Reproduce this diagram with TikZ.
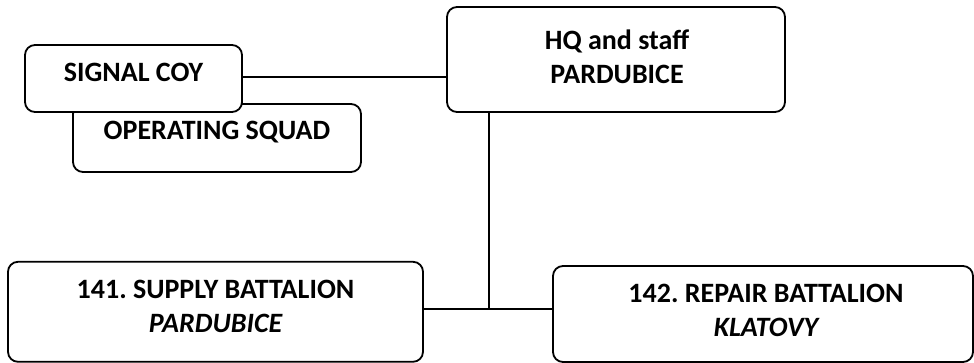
\documentclass[tikz,border=0pt]{standalone}
\usepackage{fontspec}
\setmainfont{Carlito}
\frenchspacing
\begin{document}
\begin{tikzpicture}[x=1pt,y=-1pt,
  unitbox/.style={draw=black, line width=1.8pt, rounded corners=10pt, fill=white, inner sep=0pt},
  lbl/.style={anchor=base, align=center, inner sep=0pt, font=\fontsize{28}{34}\selectfont\bfseries},
  link/.style={draw=black, line width=1.8pt}]
\useasboundingbox (0,0) rectangle (974,363);
% boxes
\node[unitbox, minimum width=288pt, minimum height=68pt] (ops) at (217,138) {};
\node[unitbox, minimum width=217pt, minimum height=67pt] (sig) at (133.5,78.5) {};
\node[unitbox, minimum width=338pt, minimum height=105pt] (hq) at (616,59.5) {};
\node[unitbox, minimum width=415pt, minimum height=100pt] (sup) at (215.5,311.8) {};
\node[unitbox, minimum width=420pt, minimum height=96pt] (rep) at (763,314) {};
% texts (base anchor = baseline of last line)
\node[lbl] (opsT) at (217,140) {OPERATING SQUAD};
\node[lbl] (sigT) at (133.5,81.7) {SIGNAL COY};
\node[lbl] (hqT) at (617,84) {HQ and staff\\PARDUBICE};
\node[lbl] (supT) at (215.5,332.3) {141. SUPPLY BATTALION\\\itshape PARDUBICE};
\node[lbl] (repT) at (766,336.7) {142. REPAIR BATTALION\\\itshape KLATOVY};
% connectors
\coordinate (j) at (489,309);
\draw[link] (sig.east |- 0,77) -- (hq.west |- 0,77);
\draw[link] (j |- hq.south) -- (j);
\draw[link] (sup.east |- j) -- (rep.west |- j);
\end{tikzpicture}
\end{document}
